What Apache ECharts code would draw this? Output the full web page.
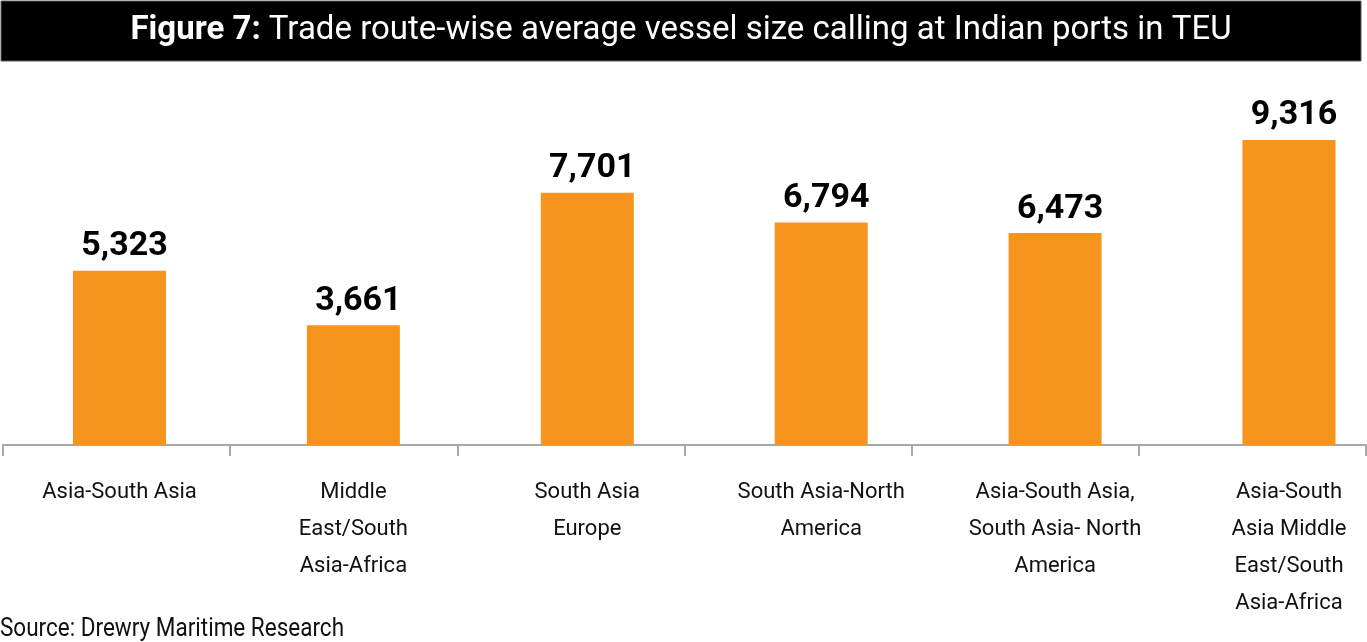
<!DOCTYPE html>
<html>
<head>
<meta charset="utf-8">
<script src="https://cdn.jsdelivr.net/npm/echarts@6/dist/echarts.min.js"></script>
<style>
html,body{margin:0;padding:0;background:#fff;}
#main{width:1367px;height:642px;}
</style>
</head>
<body>
<div id="main"></div>
<script>
var categories = [
  "Asia-South Asia",
  "Middle\nEast/South\nAsia-Africa",
  "South Asia\nEurope",
  "South Asia-North\nAmerica",
  "Asia-South Asia,\nSouth Asia- North\nAmerica",
  "Asia-South\nAsia Middle\nEast/South\nAsia-Africa"
];
var avgVesselSizeTEU = [5323, 3661, 7701, 6794, 6473, 9316];
var titleText = "Trade route-wise average vessel size calling at Indian ports in TEU";
var titlePrefix = "Figure 7:";
var sourceText = "Source: Drewry Maritime Research";

var chart = echarts.init(document.getElementById('main'));
var axisGrey = '#A6A8AB';
var option = {
  backgroundColor: '#ffffff',
  animation: false,
  grid: [
    {left: 3, width: 1363, top: 117.6, bottom: 197, containLabel: false, outerBoundsMode: 'none'},
    {left: 2.55, width: 1403.4, top: 117.6, bottom: 197, containLabel: false, outerBoundsMode: 'none'}
  ],
  xAxis: [
    {
      type: 'category', gridIndex: 0, data: categories,
      axisLine: {show: true, lineStyle: {color: axisGrey, width: 2}},
      axisTick: {show: true, length: 11, lineStyle: {color: axisGrey, width: 2}},
      axisLabel: {show: false}
    },
    {
      type: 'category', gridIndex: 1, data: categories,
      axisLine: {show: false}, axisTick: {show: false},
      axisLabel: {
        show: true, interval: 0, margin: 29,
        fontFamily: 'Roboto, sans-serif',
        fontSize: 22, lineHeight: 37, color: '#111111', align: 'center'
      }
    }
  ],
  yAxis: [
    {type: 'value', gridIndex: 0, show: false, min: 0, max: 10000},
    {type: 'value', gridIndex: 1, show: false, min: 0, max: 10000}
  ],
  series: [{
    type: 'bar', xAxisIndex: 1, yAxisIndex: 1,
    data: avgVesselSizeTEU,
    barWidth: 93,
    itemStyle: {color: '#F7941D'},
    label: {
      show: true, position: 'top', distance: 7, offset: [5, 0],
      fontFamily: 'Roboto, sans-serif', fontWeight: 'bold', fontSize: 34, color: '#000000',
      formatter: function (p) { return p.value.toLocaleString('en-US'); }
    }
  }],
  graphic: [
    {
      type: 'rect', shape: {x: 1, y: 1, width: 1360, height: 60},
      style: {fill: '#000000', stroke: '#5a5a5a', lineWidth: 1}
    },
    {
      type: 'text', x: 681, y: 30.5,
      style: {
        text: '{b|' + titlePrefix + '} ' + titleText,
        rich: {b: {fontWeight: 'bold', fontFamily: 'Roboto', fontSize: 33, fill: '#ffffff'}},
        fontFamily: 'Roboto', fontSize: 33, fill: '#ffffff',
        align: 'center', verticalAlign: 'middle'
      }
    },
    {
      type: 'text', x: 0, y: 630, scaleX: 0.9,
      style: {
        text: sourceText, fontFamily: 'Roboto', fontSize: 25, fill: '#111111',
        align: 'left', verticalAlign: 'middle'
      }
    }
  ]
};
chart.setOption(option);
</script>
</body>
</html>
